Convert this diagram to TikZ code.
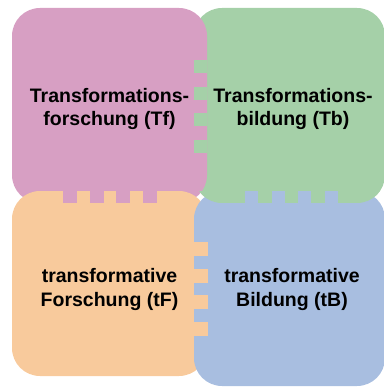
\documentclass[tikz,border=0pt]{standalone}
\usepackage{fontspec}
\setmainfont{Liberation Sans}
\usepackage{xcolor}

\definecolor{tfpink}{RGB}{215,159,195}
\definecolor{tbgreen}{RGB}{165,208,168}
\definecolor{tforange}{RGB}{248,202,156}
\definecolor{tbblue}{RGB}{168,190,224}

\tikzset{
  piece/.style={rounded corners=28pt},
  label/.style={anchor=base, align=center, inner sep=0pt,
    font=\fontsize{19.5}{23.5}\selectfont\bfseries}
}

\begin{document}
\begin{tikzpicture}[x=1pt,y=-1pt]
				\useasboundingbox (0,0) rectangle (383,387);
				% the four pieces
				\fill[piece, tbgreen] (194,8) rectangle (385,203);
				\fill[piece, tfpink] (12,8) rectangle (207,203);
				\fill[piece, tforange] (12,191) rectangle (207,376);
				\fill[piece, tbblue] (194,191) rectangle (385,386);
				\begin{scope}
					\clip[piece] (194,8) rectangle (385,203);
					\fill[tbgreen] (194,191) rectangle (385,203);
				\end{scope}
				% teeth
				\foreach \t in {0,...,3} {
					\fill[tbgreen] (194,60+26.7*\t) rectangle (207,73+26.7*\t);
					\fill[tfpink] (63+26.7*\t,191) rectangle (77+26.7*\t,203);
					\fill[tforange] (194,242+26.7*\t) rectangle (208,256+26.7*\t);
					\fill[tbblue] (245+26.7*\t,191) rectangle (258+26.7*\t,203);
				}
				% texts
				\node[label] (tf) at (109.5,126) {Transformations-\\forschung (Tf)};
				\node[label] (tb) at (293,126) {Transformations-\\bildung (Tb)};
				\node[label] (tF) at (109.5,306) {transformative\\Forschung (tF)};
				\node[label] (tB) at (292,306) {transformative\\Bildung (tB)};
			\end{tikzpicture}
\end{document}
